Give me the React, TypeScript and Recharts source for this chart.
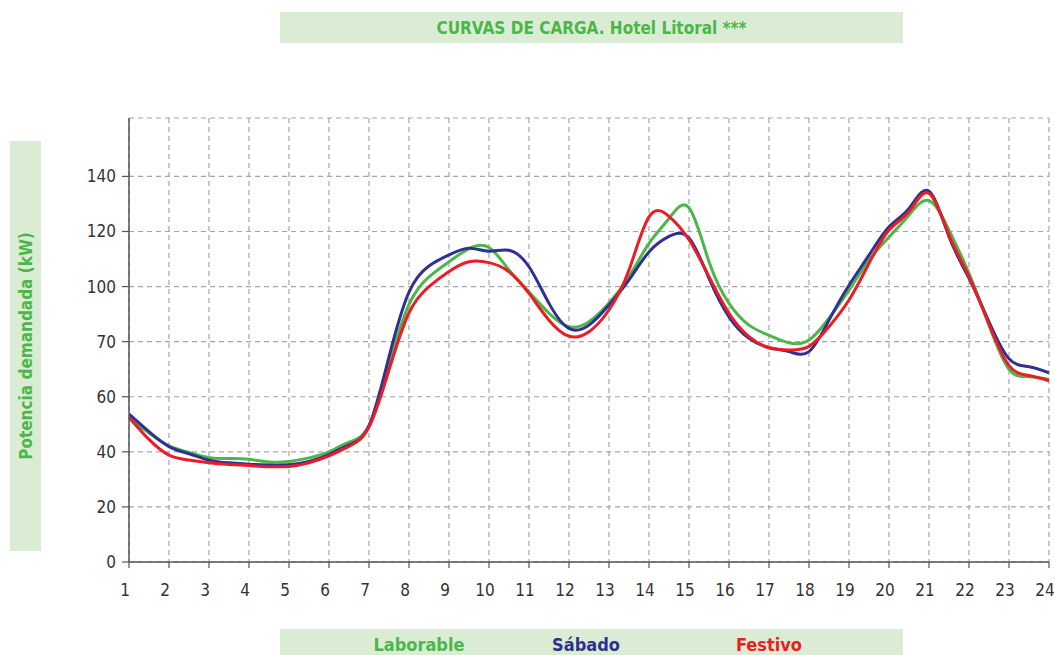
import React from 'react';
import { LineChart, Line, XAxis, YAxis, CartesianGrid } from 'recharts';

const hours = [
  1, 1.5, 2, 2.5, 3, 3.5, 4, 4.5, 5, 5.5, 6, 6.5, 7, 7.5, 8, 8.5, 9, 9.5, 10, 10.5, 11, 11.5, 12, 12.5,
  13, 13.5, 14, 14.5, 15, 15.5, 16, 16.5, 17, 17.5, 18, 18.5, 19, 19.5, 20, 20.5, 21, 21.5, 22, 22.5, 23, 23.5, 24,
];

const laborable = [
  52.2, 46.8, 42.2, 39.8, 37.9, 37.6, 37.3, 36.3, 36.5, 37.8, 40, 43.5, 49.5, 71.5, 93.5, 103.5, 109, 113.8, 114.2, 106, 98, 90.3, 85.4, 87.2,
  94, 103.6, 115.7, 124.7, 128.6, 109, 93.9, 86, 82.3, 79.6, 80.6, 88.5, 98.7, 109.6, 118, 126, 131.2, 120.5, 104.8, 86, 70, 67.3, 66.3,
];

const sabado = [
  53.7, 47.3, 41.9, 39.3, 37, 36, 35.5, 35.2, 35.3, 36.5, 39, 42.5, 49.5, 74.5, 98, 107.5, 111.5, 113.9, 112.8, 113.2, 107.2, 93.9, 84.8, 86,
  93.3, 102.4, 112.6, 118.2, 117.6, 103, 89, 81.2, 77.8, 76.4, 76.4, 87.8, 100.5, 111.4, 121.7, 128.4, 134.6, 118.1, 103, 87.2, 73.8, 70.9, 68.7,
];

const festivo = [
  52.5, 44.5, 38.8, 37, 36, 35.4, 35, 34.6, 34.7, 36, 38.5, 42, 49, 69.7, 90.5, 100, 105.5, 109, 108.7, 105.4, 97.5, 87.8, 82, 83.6,
  91.5, 106, 125.3, 125.5, 117, 103.6, 90.3, 81.8, 77.8, 77, 78.3, 85.4, 95.1, 108.4, 120.5, 127.2, 133.8, 118.7, 103.6, 86.3, 71.3, 67.7, 65.8,
];

const xTicks = [1, 2, 3, 4, 5, 6, 7, 8, 9, 10, 11, 12, 13, 14, 15, 16, 17, 18, 19, 20, 21, 22, 23, 24];
const yTicks = [0, 20, 40, 60, 80, 100, 120, 140];
const yTickLabels = ['0', '20', '40', '60', '70', '100', '120', '140'];

const seriesNames = ['Laborable', 'Sábado', 'Festivo'];
const titleText = 'CURVAS DE CARGA. Hotel Litoral ***';
const yAxisTitle = 'Potencia demandada (kW)';

const data = hours.map((h, i) => ({
  h,
  laborable: laborable[i],
  sabado: sabado[i],
  festivo: festivo[i],
}));

const GREEN = '#4bb74a';
const BLUE = '#2e3192';
const RED = '#ed1c24';
const BOX = '#daecd3';
const FONT = "'Liberation Sans Narrow', 'DejaVu Sans Condensed', 'Roboto Condensed', 'Open Sans', sans-serif";

const YTick = (props: any) => {
  const { x, y, payload } = props;
  const idx = yTicks.indexOf(payload.value);
  return (
    <text x={x} y={y} dy={6} textAnchor="end" fontSize={17} fill="#333" fontFamily={FONT}>
      {idx >= 0 ? yTickLabels[idx] : payload.value}
    </text>
  );
};

const XTick = (props: any) => {
  const { x, y, payload } = props;
  return (
    <text x={x - 4} y={y} dy={12} textAnchor="middle" fontSize={17} fill="#333" fontFamily={FONT}>
      {payload.value}
    </text>
  );
};

export default function App() {
  return (
    <div style={{ position: 'absolute', left: 0, top: 0, width: 1055, height: 655, background: '#fff', overflow: 'hidden', fontFamily: FONT }}>
      <div
        style={{
          position: 'absolute', left: 280, top: 12, width: 623, height: 31, background: BOX,
          display: 'flex', alignItems: 'center', justifyContent: 'center',
          color: GREEN, fontSize: 17, fontWeight: 'bold',
        }}
      >
        {titleText}
      </div>
      <div
        style={{
          position: 'absolute', left: 10, top: 141, width: 31, height: 410, background: BOX,
        }}
      >
        <div
          style={{
            position: 'absolute', left: 15.5, top: 205, transform: 'translate(-50%, -50%) rotate(-90deg)',
            whiteSpace: 'nowrap', color: GREEN, fontSize: 17, fontWeight: 'bold',
          }}
        >
          {yAxisTitle}
        </div>
      </div>
      <div style={{ position: 'absolute', left: 280, top: 629, width: 623, height: 30, background: BOX }}>
        {[
          { name: seriesNames[0], color: GREEN, cx: 139 },
          { name: seriesNames[1], color: BLUE, cx: 306 },
          { name: seriesNames[2], color: RED, cx: 489 },
        ].map((s) => (
          <div
            key={s.name}
            style={{
              position: 'absolute', left: s.cx, top: 15, transform: 'translate(-50%, -50%)',
              color: s.color, fontSize: 18, fontWeight: 'bold', whiteSpace: 'nowrap',
            }}
          >
            {s.name}
          </div>
        ))}
      </div>
      <div style={{ position: 'absolute', left: 0, top: 0 }}>
        <LineChart width={1055} height={655} data={data} margin={{ top: 118, right: 6, bottom: 63, left: 69 }}>
          <CartesianGrid stroke="#a5a5a5" strokeDasharray="5 4" strokeWidth={1.2} />
          <XAxis
            type="number"
            dataKey="h"
            domain={[1, 24]}
            ticks={xTicks}
            interval={0}
            height={30}
            tick={<XTick />}
            tickSize={6}
            tickMargin={16}
            axisLine={{ stroke: '#555', strokeWidth: 1.5 }}
            tickLine={{ stroke: '#555', strokeWidth: 1.2 }}
            allowDataOverflow
          />
          <YAxis
            type="number"
            domain={[0, 161.2]}
            ticks={yTicks}
            interval={0}
            width={60}
            tick={<YTick />}
            tickSize={7}
            tickMargin={6}
            axisLine={{ stroke: '#555', strokeWidth: 1.5 }}
            tickLine={{ stroke: '#555', strokeWidth: 1.2 }}
            allowDataOverflow
          />
          <Line type="natural" dataKey="laborable" name={seriesNames[0]} stroke={GREEN} strokeWidth={3} dot={false} isAnimationActive={false} />
          <Line type="natural" dataKey="sabado" name={seriesNames[1]} stroke={BLUE} strokeWidth={3} dot={false} isAnimationActive={false} />
          <Line type="natural" dataKey="festivo" name={seriesNames[2]} stroke={RED} strokeWidth={3} dot={false} isAnimationActive={false} />
        </LineChart>
      </div>
    </div>
  );
}
